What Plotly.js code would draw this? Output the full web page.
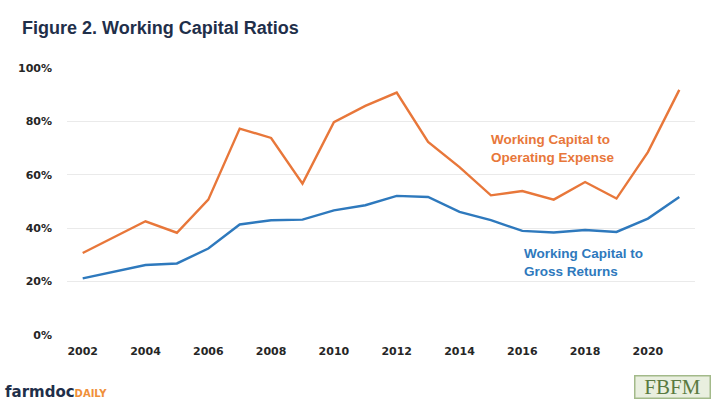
<!DOCTYPE html>
<html>
<head>
<meta charset="utf-8">
<script src="https://cdn.plot.ly/plotly-3.0.1.min.js"></script>
<style>
html,body{margin:0;padding:0;background:#fff;}
#chart{width:720px;height:404px;}
</style>
</head>
<body>
<div id="chart"></div>
<script>
const years = [2002,2003,2004,2005,2006,2007,2008,2009,2010,2011,2012,2013,2014,2015,2016,2017,2018,2019,2020,2021];
const wcOperatingExpense = [0.307,0.367,0.426,0.383,0.507,0.773,0.738,0.567,0.797,0.858,0.908,0.723,0.629,0.523,0.539,0.507,0.573,0.511,0.685,0.918];
const wcGrossReturns = [0.212,0.237,0.262,0.268,0.324,0.414,0.430,0.432,0.467,0.486,0.521,0.517,0.461,0.430,0.390,0.384,0.393,0.386,0.436,0.517];
const yTicks = [0,0.2,0.4,0.6,0.8,1.0];
const yTickText = ['0%','20%','40%','60%','80%','100%'];
const xTicks = [2002,2004,2006,2008,2010,2012,2014,2016,2018,2020];

const orange = '#E8773A';
const blue = '#2E79BD';

const traces = [
  {x: years, y: wcOperatingExpense, mode: 'lines', line: {color: orange, width: 2.4}, name: 'Working Capital to Operating Expense', hoverinfo: 'skip'},
  {x: years, y: wcGrossReturns, mode: 'lines', line: {color: blue, width: 2.4}, name: 'Working Capital to Gross Returns', hoverinfo: 'skip'}
];

const tickFont = {family: 'DejaVu Sans, Verdana, sans-serif', size: 11, color: '#262626', weight: 'bold'};

const layout = {
  width: 720, height: 404,
  margin: {l: 67, r: 25, t: 68, b: 69},
  paper_bgcolor: '#fff', plot_bgcolor: '#fff',
  showlegend: false,
  title: {text: '<b>Figure 2. Working Capital Ratios</b>', x: 22/720, xanchor: 'left', y: 1 - 28/404, yanchor: 'middle',
          font: {family: 'Arial, Liberation Sans, sans-serif', size: 18, color: '#1F2F4A'}},
  xaxis: {range: [2001.5, 2021.5], tickvals: xTicks, ticktext: xTicks.map(String), showgrid: false, zeroline: false,
          showline: false, ticks: '', tickfont: tickFont, ticklabelstandoff: 8},
  yaxis: {range: [0, 1.0], tickvals: yTicks, ticktext: yTickText, showgrid: true, gridcolor: '#EAEAEA', gridwidth: 1,
          zeroline: false, showline: false, ticks: '', tickfont: tickFont, ticklabelstandoff: 14},
  annotations: [
    {xref: 'paper', yref: 'paper', x: (489-67)/628, y: (335-148.5)/267, xanchor: 'left', yanchor: 'middle', align: 'left', showarrow: false,
     text: '<b>Working Capital to<br>Operating Expense</b>', font: {family: 'Arial, Liberation Sans, sans-serif', size: 13.5, color: orange}},
    {xref: 'paper', yref: 'paper', x: (522-67)/628, y: (335-262)/267, xanchor: 'left', yanchor: 'middle', align: 'left', showarrow: false,
     text: '<b>Working Capital to<br>Gross Returns</b>', font: {family: 'Arial, Liberation Sans, sans-serif', size: 13.5, color: blue}},
    {xref: 'paper', yref: 'paper', x: -64/628, y: -(392-335)/267, xanchor: 'left', yanchor: 'middle', showarrow: false,
     text: '<b><span style="font-size:15px;color:#1F2F4A">farmdoc</span><span style="font-size:10px;color:#F0903A">DAILY</span></b>',
     font: {family: 'DejaVu Sans, Arial, sans-serif', size: 15, color: '#1F2F4A'}},
    {xref: 'paper', yref: 'paper', x: (672-67)/628, y: -(387-335)/267, xanchor: 'center', yanchor: 'middle', showarrow: false,
     text: 'FBFM', width: 72, height: 19, bgcolor: '#E9EFDF', bordercolor: '#A3BA8A', borderwidth: 1.5, borderpad: 1,
     font: {family: 'Liberation Serif, DejaVu Serif, serif', size: 21, color: '#5A7A40'}}
  ]
};

Plotly.newPlot('chart', traces, layout, {displayModeBar: false, staticPlot: true});
</script>
</body>
</html>
